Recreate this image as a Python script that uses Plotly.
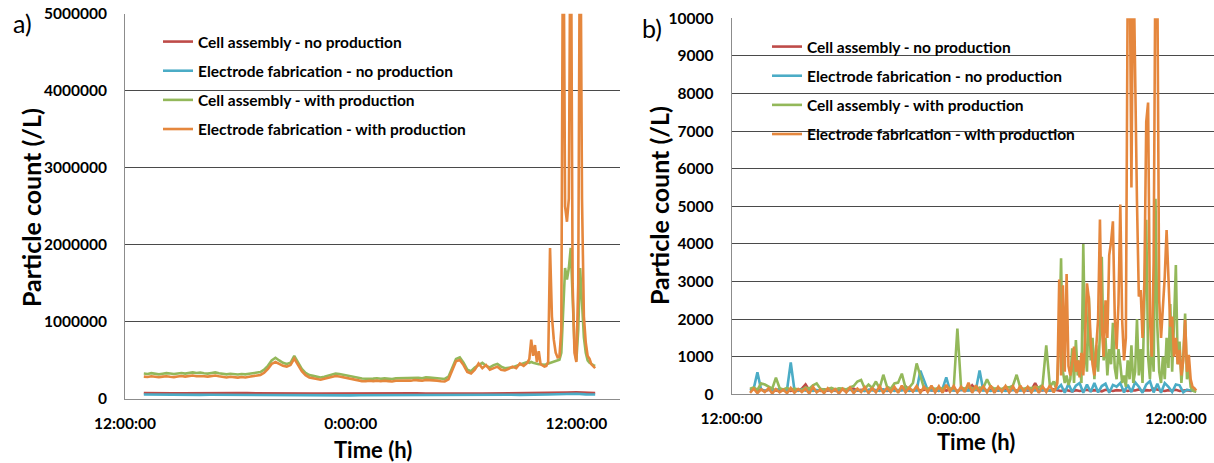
import numpy as np
import plotly.graph_objects as go

# ---------------- DATA ----------------
# Time axis: hours elapsed since 12:00:00 (tick labels below)
tick_hours = [0, 12, 24]
tick_labels = ["12:00:00", "0:00:00", "12:00:00"]

series_names = [
    "Cell assembly - no production",
    "Electrode fabrication - no production",
    "Cell assembly - with production",
    "Electrode fabrication - with production",
]

# ---- panel a) (values in thousands of particles / L) ----
# no-production series sampled every 0.5 h starting at 1.0 h
a_red_k = [78, 80, 76, 75, 74, 76, 75, 73, 74, 76,
           77, 76, 74, 73, 72, 73, 74, 72, 70, 71,
           72, 70, 69, 70, 71, 70, 72, 73, 74, 73,
           72, 74, 75, 74, 73, 72, 71, 72, 74, 73,
           72, 74, 75, 76, 78, 84, 88, 80, 78]
a_blue_k = [58, 56, 55, 54, 55, 53, 54, 55, 54, 53,
            55, 56, 58, 57, 55, 53, 52, 53, 52, 50,
            48, 46, 47, 49, 50, 51, 52, 53, 54, 55,
            54, 53, 54, 55, 54, 53, 52, 53, 54, 55,
            54, 53, 55, 58, 62, 66, 68, 60, 58]
# with-production series: every 0.2 h from 1.0 h, then every 0.1 h from 21.5 h
a_green_k_slow = [330, 325, 335, 330, 320, 328, 335, 330, 325, 332,
                  338, 330, 340, 345, 338, 342, 335, 330, 338, 345,
                  335, 325, 320, 328, 322, 318, 325, 320, 328, 335,
                  340, 350, 380, 430, 500, 535, 500, 470, 455, 470,
                  560, 470, 390, 340, 310, 300, 285, 280, 290, 305,
                  320, 330, 325, 315, 305, 290, 280, 270, 265, 262,
                  268, 265, 270, 262, 268, 265, 260, 268, 270, 275,
                  272, 270, 278, 275, 270, 280, 278, 275, 270, 262,
                  260, 290, 400, 520, 540, 470, 380, 360, 410, 440,
                  470, 430, 410, 440, 455, 420, 400, 405, 410, 430,
                  450, 470, 480]
a_green_k_fast = [470, 480, 470, 460, 455, 450, 450, 445, 445, 450,
                  460, 470, 470, 480, 490, 500, 510, 600, 1200, 1700,
                  1550, 1700, 1960, 1200, 700, 500, 900, 1700, 1300, 800,
                  600, 500, 470, 450, 440, 430]
a_orange_k_slow = [290, 285, 295, 288, 282, 290, 295, 288, 284, 292,
                   298, 290, 300, 305, 296, 300, 295, 290, 296, 304,
                   294, 285, 280, 288, 282, 278, 285, 280, 288, 295,
                   300, 312, 340, 390, 455, 480, 455, 430, 420, 440,
                   525, 440, 360, 310, 280, 270, 255, 250, 262, 275,
                   290, 298, 292, 282, 272, 258, 248, 238, 232, 230,
                   236, 232, 238, 230, 236, 232, 228, 236, 238, 244,
                   240, 238, 246, 242, 238, 248, 246, 242, 238, 230,
                   228, 255, 370, 490, 505, 440, 350, 330, 380, 460,
                   400, 440, 380, 400, 420, 380, 370, 390, 420, 400,
                   460, 430, 470]
a_orange_k_fast = [520, 770, 560, 700, 480, 620, 450, 430, 420, 430,
                   480, 1960, 1070, 770, 600, 540, 550, 900, 7000, 2500,
                   2300, 2600, 7000, 1500, 600, 480, 1500, 7000, 2600, 1070,
                   730, 560, 520, 450, 420, 400]

# ---- panel b) (particles / L) ----
# no-production series sampled every 0.2 h from 1.0 h
b_red = [120, 150, 100, 130, 90, 110, 140, 100, 120, 130,
         110, 90, 130, 100, 150, 260, 100, 130, 110, 90,
         130, 100, 120, 90, 140, 110, 100, 130, 150, 100,
         120, 90, 110, 140, 100, 130, 120, 90, 110, 150,
         100, 120, 210, 110, 90, 130, 100, 120, 140, 100,
         110, 90, 120, 100, 130, 110, 90, 120, 100, 110,
         240, 120, 100, 130, 90, 110, 120, 100, 130, 110,
         90, 120, 100, 110, 130, 100, 120, 300, 110, 100,
         120, 100, 130, 110, 90, 120, 100, 80, 110, 90,
         100, 120, 90, 110, 100, 80, 120, 100, 90, 110,
         100, 120, 90, 110, 100, 130, 90, 110, 100, 150,
         120, 100, 90, 110, 100, 120, 90, 100, 110, 90,
         100]
b_blue = [100, 150, 585, 120, 90, 130, 100, 110, 140, 100,
          120, 850, 110, 90, 130, 100, 120, 90, 110, 100,
          90, 120, 100, 110, 90, 130, 100, 120, 90, 110,
          100, 90, 120, 100, 110, 90, 130, 100, 120, 90,
          110, 100, 120, 90, 110, 100, 630, 350, 110, 100,
          120, 90, 150, 450, 100, 110, 90, 120, 100, 110,
          90, 120, 630, 100, 110, 90, 120, 100, 110, 90,
          100, 120, 90, 110, 100, 120, 90, 110, 100, 120,
          90, 110, 100, 150, 250, 40, 280, 60, 230, 300,
          40, 260, 60, 300, 50, 220, 280, 40, 250, 200,
          300, 50, 250, 60, 320, 200, 40, 260, 350, 50,
          280, 40, 300, 200, 60, 260, 240, 50, 120, 100,
          90]
# with-production series: every 0.2 h from 1.0 h, then every 0.1 h from 17.5 h
b_green_slow = [150, 180, 120, 290, 260, 200, 150, 440, 160, 130,
                170, 120, 150, 130, 110, 180, 150, 240, 290, 150,
                120, 140, 170, 130, 160, 150, 130, 180, 220, 340,
                380, 150, 260, 170, 340, 160, 520, 200, 150, 290,
                310, 550, 170, 180, 300, 820, 500, 160, 150, 180,
                140, 170, 150, 200, 160, 150, 1750, 180, 150, 200,
                160, 140, 180, 170, 400, 200, 150, 160, 140, 200,
                180, 230, 520, 170, 150, 180, 160, 200, 180, 250,
                1300, 200, 340]
b_green_fast = [200, 400, 1500, 3620, 600,
                300, 500, 250, 400, 1220, 300, 1440, 500, 900, 300,
                4000, 1200, 600, 2600, 900, 1500, 400, 1300, 600, 1600,
                3660, 900, 1500, 500, 1200, 800, 1900, 700, 400, 1200,
                800, 300, 500, 200, 900, 400, 1300, 300, 600, 2000,
                500, 1200, 300, 2200, 4640, 1000, 400, 1500, 600, 5200,
                1800, 600, 300, 1000, 400, 1500, 700, 2400, 600, 1900,
                3440, 800, 1400, 300, 1000, 2150, 400, 700, 200, 100,
                80, 60]
b_orange_slow = [40, 150, 30, 130, 60, 160, 20, 140, 50, 120,
                 30, 170, 40, 140, 60, 150, 20, 200, 50, 130,
                 30, 160, 60, 140, 20, 150, 50, 180, 30, 150,
                 60, 190, 30, 160, 50, 210, 40, 170, 60, 200,
                 40, 230, 50, 180, 70, 220, 40, 200, 60, 230,
                 50, 210, 40, 250, 70, 220, 50, 200, 60, 310,
                 40, 240, 60, 210, 50, 230, 40, 200, 70, 220,
                 50, 210, 40, 230, 60, 200, 50, 220, 40, 210,
                 60, 240, 50]
b_orange_fast = [150, 300, 3050, 500, 2900,
                 600, 3200, 750, 500, 820, 1270, 600, 900, 450, 1100,
                 500, 1500, 2950, 2550, 1440, 800, 500, 1200, 2000, 4650,
                 1800, 1000, 2500, 1500, 3700, 4050, 4600, 2060, 1200, 2400,
                 5050, 1970, 900, 1500, 11000, 12000, 5500, 12000, 8000, 5120,
                 2600, 2770, 1500, 3000, 7250, 7760, 2000, 1000, 3500, 12000,
                 11000, 2500, 1500, 2300, 3130, 4370, 3130, 1800, 2070, 1000,
                 1500, 800, 1180, 500, 900, 1980, 600, 1050, 400, 200,
                 160, 100]


def sample_times(start, step, n):
    """Sampling instants (hours after 12:00:00) of an evenly logged series."""
    return list(np.round(start + step * np.arange(n), 3))


def two_rate(slow, fast, start, step_slow, start_fast, step_fast):
    t = sample_times(start, step_slow, len(slow)) + sample_times(start_fast, step_fast, len(fast))
    return t, list(slow) + list(fast)


K = 1000
colors = ["#BE4B48", "#4BACC6", "#93B85A", "#E5873D"]

a_series = [
    (sample_times(1.0, 0.5, len(a_red_k)), [v * K for v in a_red_k]),
    (sample_times(1.0, 0.5, len(a_blue_k)), [v * K for v in a_blue_k]),
]
t, v = two_rate(a_green_k_slow, a_green_k_fast, 1.0, 0.2, 21.5, 0.1)
a_series.append((t, [x * K for x in v]))
t, v = two_rate(a_orange_k_slow, a_orange_k_fast, 1.0, 0.2, 21.5, 0.1)
a_series.append((t, [x * K for x in v]))

b_series = [
    (sample_times(1.0, 0.2, len(b_red)), b_red),
    (sample_times(1.0, 0.2, len(b_blue)), b_blue),
    two_rate(b_green_slow, b_green_fast, 1.0, 0.2, 17.5, 0.1),
    two_rate(b_orange_slow, b_orange_fast, 1.0, 0.2, 17.5, 0.1),
]

# ---------------- FIGURE ----------------
W, H = 1214, 463
FONT = "Lato"


def px(x):
    return x / W


def py(y):
    return 1 - y / H


fig = go.Figure()
for i, (name, (t, v)) in enumerate(zip(series_names, a_series)):
    fig.add_trace(go.Scatter(x=t, y=v, mode="lines", name=name,
                             line=dict(color=colors[i], width=2.6),
                             xaxis="x", yaxis="y", legend="legend",
                             legendgroup="a%d" % i))
for i, (name, (t, v)) in enumerate(zip(series_names, b_series)):
    fig.add_trace(go.Scatter(x=t, y=v, mode="lines", name=name,
                             line=dict(color=colors[i], width=2.6),
                             xaxis="x2", yaxis="y2", legend="legend2",
                             legendgroup="b%d" % i))

tickfont = dict(family=FONT, size=15.5, color="black", weight="bold")
axis_common = dict(tickvals=tick_hours, ticktext=tick_labels, showgrid=False,
                   showline=True, linecolor="#8c8c8c", linewidth=1, ticks="",
                   tickfont=tickfont, zeroline=False, fixedrange=True,
                   ticklabelstandoff=10, automargin=False)
yaxis_common = dict(showgrid=True, gridcolor="#4a4a4a", gridwidth=1,
                    showline=True, linecolor="#8c8c8c", linewidth=1, ticks="",
                    tickfont=tickfont, zeroline=False, tickformat="d",
                    fixedrange=True, ticklabelstandoff=14, automargin=False)

legend_common = dict(bgcolor="rgba(0,0,0,0)", borderwidth=0,
                     font=dict(family=FONT, size=15.5, color="black", weight="bold"),
                     xanchor="left", yanchor="top", tracegroupgap=6,
                     traceorder="grouped", itemwidth=30)

ann_common = dict(xref="paper", yref="paper", xanchor="center", yanchor="middle",
                  showarrow=False)

fig.update_layout(
    width=W, height=H, margin=dict(l=0, r=0, t=0, b=0, autoexpand=False),
    paper_bgcolor="white", plot_bgcolor="white", showlegend=True,
    xaxis=dict(domain=[px(125), px(620)], range=[0, 26.32], anchor="y", **axis_common),
    yaxis=dict(domain=[py(399), py(13.7)], range=[0, 5000000], dtick=1000000,
               anchor="x", **yaxis_common),
    xaxis2=dict(domain=[px(731.5), px(1214)], range=[0, 26.06], anchor="y2", **axis_common),
    yaxis2=dict(domain=[py(394.3), py(18.3)], range=[0, 10000], dtick=1000,
                anchor="x2", **yaxis_common),
    legend=dict(x=px(158), y=py(25), **legend_common),
    legend2=dict(x=px(767), y=py(30), **legend_common),
    shapes=[
        dict(type="rect", xref="paper", yref="paper", layer="between",
             x0=px(139), x1=px(505), y0=py(150), y1=py(26),
             fillcolor="white", line=dict(width=0)),
        dict(type="rect", xref="paper", yref="paper", layer="between",
             x0=px(745), x1=px(1106), y0=py(152), y1=py(30),
             fillcolor="white", line=dict(width=0)),
    ],
    annotations=[
        dict(text="a)", x=px(22), y=py(23), font=dict(family=FONT, size=25, color="black"),
             **ann_common),
        dict(text="b)", x=px(652), y=py(28), font=dict(family=FONT, size=25, color="black"),
             **ann_common),
        dict(text="Particle count (/L)", x=px(31), y=py(208), textangle=-90,
             font=dict(family=FONT, size=25, color="black", weight="bold"), **ann_common),
        dict(text="Particle count (/L)", x=px(659), y=py(206), textangle=-90,
             font=dict(family=FONT, size=25, color="black", weight="bold"), **ann_common),
        dict(text="Time (h)", x=px(373), y=py(449),
             font=dict(family=FONT, size=22, color="black", weight="bold"), **ann_common),
        dict(text="Time (h)", x=px(976), y=py(441),
             font=dict(family=FONT, size=22, color="black", weight="bold"), **ann_common),
    ],
)

fig.write_html("out.html")
